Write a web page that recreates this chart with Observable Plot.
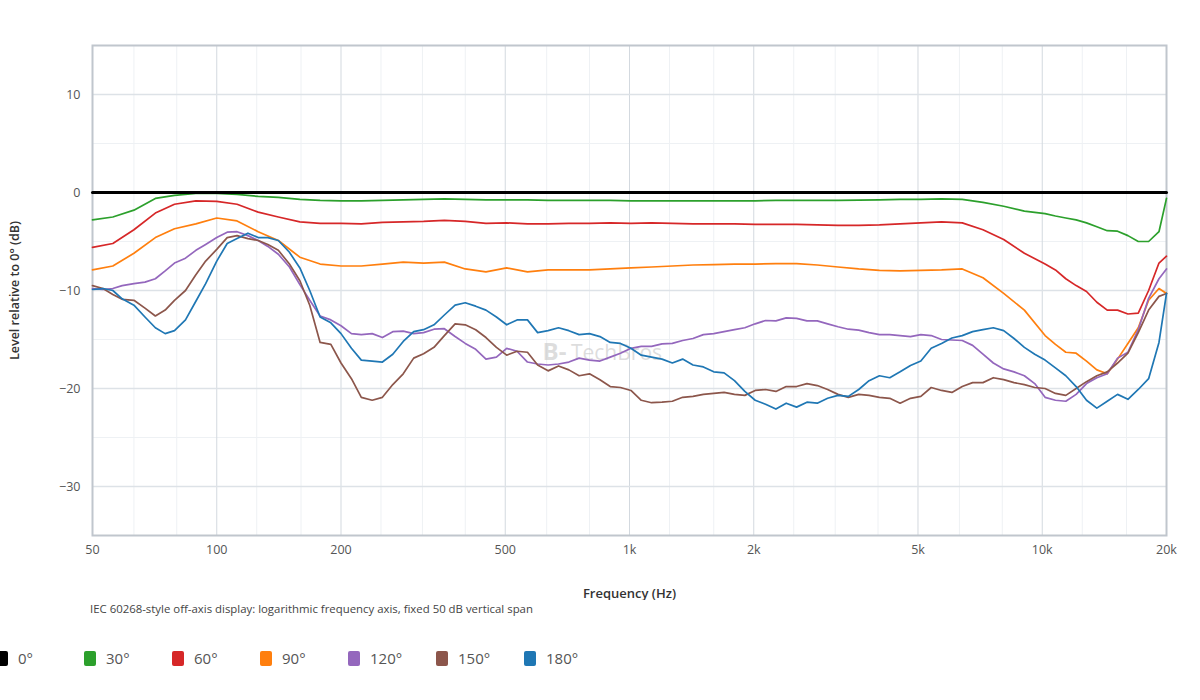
<!DOCTYPE html>
<html><head><meta charset="utf-8">
<script src="https://cdn.jsdelivr.net/npm/d3@7"></script>
<script src="https://cdn.jsdelivr.net/npm/@observablehq/plot@0.6"></script>
<style>
body{margin:0;background:#fff;font-family:"Open Sans",sans-serif;}
#wrap{position:relative;width:1200px;height:700px;overflow:hidden;}
#chart{position:absolute;left:0;top:0;}
#caption{position:absolute;left:90px;top:601px;font-size:11.4px;color:#444;}
#legend{position:absolute;left:-4px;top:648px;display:flex;}
.item{display:flex;align-items:center;width:88px;}
.sw{width:12px;height:15px;border-radius:2px;margin-right:10px;}
.lb{font-size:15px;color:#555;}
</style></head>
<body><div id="wrap"><div id="chart"></div><div id="caption"></div><div id="legend"></div></div>
<script>
// 1/6-octave grid (smooth curves)
const freqs = [50,56,63,71,79,89,100,112,126,141,159,178,200,224,252,283,317,356,400,449,504,566,635,713,800,898,1008,1131,1270,1425,1600,1796,2016,2263,2540,2851,3200,3592,4032,4525,5080,5702,6400,7184,8064,9051,10159,10764,11404,12082,12800,13561,14368,15222,16127,17086,18102,19178,20000];
// 1/12-octave grid (detailed curves)
const freqsFine = [50,53,56,59,63,67,71,75,79,84,89,94,
 100,106,112,119,126,133,141,150,159,168,178,189,
 200,212,224,238,252,267,283,300,317,336,356,378,
 400,424,449,476,504,534,566,599,635,673,713,755,
 800,848,898,951,1008,1068,1131,1199,1270,1345,1425,1510,
 1600,1695,1796,1903,2016,2136,2263,2397,2540,2691,2851,3020,
 3200,3390,3592,3806,4032,4271,4525,4795,5080,5382,5702,6041,
 6400,6781,7184,7611,8064,8543,9051,9589,
 10159,10764,11404,12082,12800,13561,14368,15222,16127,17086,18102,19178,20000];
const deg0Freqs = [50, 20000];
const deg0 = [0, 0];
const deg30 = [-2.8,-2.5,-1.8,-0.6,-0.3,-0.1,-0.1,-0.2,-0.4,-0.5,-0.7,-0.8,-0.85,
 -0.85,-0.8,-0.75,-0.7,-0.65,-0.7,-0.75,-0.75,-0.75,-0.8,-0.8,-0.8,-0.8,
 -0.85,-0.85,-0.85,-0.85,-0.85,-0.85,-0.85,-0.8,-0.8,-0.8,-0.8,-0.78,-0.75,
 -0.7,-0.7,-0.65,-0.7,-1.0,-1.4,-1.9,
 -2.15,-2.4,-2.6,-2.8,-3.1,-3.5,-3.9,-3.95,-4.4,-5.0,-5.0,-4.0,-0.6];
const deg60 = [-5.6,-5.2,-3.8,-2.1,-1.2,-0.85,-0.9,-1.2,-2.0,-2.5,-3.0,-3.15,-3.15,
 -3.2,-3.05,-3.0,-2.95,-2.85,-2.95,-3.15,-3.1,-3.2,-3.2,-3.15,-3.15,-3.1,
 -3.15,-3.1,-3.15,-3.2,-3.2,-3.2,-3.25,-3.25,-3.25,-3.3,-3.35,-3.35,-3.3,
 -3.2,-3.1,-3.0,-3.1,-3.8,-4.8,-6.2,
 -7.3,-7.9,-8.8,-9.5,-10.1,-11.2,-12.0,-12.0,-12.4,-12.3,-10.0,-7.2,-6.5];
const deg90 = [-7.9,-7.5,-6.2,-4.6,-3.7,-3.2,-2.6,-2.9,-4.0,-4.9,-6.6,-7.3,-7.5,
 -7.5,-7.3,-7.1,-7.2,-7.1,-7.8,-8.1,-7.7,-8.1,-7.9,-7.9,-7.9,-7.8,
 -7.7,-7.6,-7.5,-7.4,-7.35,-7.3,-7.3,-7.25,-7.25,-7.4,-7.6,-7.8,-7.95,
 -8.0,-7.95,-7.9,-7.8,-8.7,-10.3,-12.0,
 -14.6,-15.5,-16.3,-16.4,-17.2,-18.1,-18.5,-17.0,-15.4,-13.8,-11.0,-9.8,-10.3];
const deg120 = [-9.8,-9.9,-9.8,-9.5,-9.3,-9.15,-8.8,-8.0,-7.2,-6.7,-5.9,-5.3,
 -4.6,-4.05,-4.0,-4.4,-4.9,-5.5,-6.3,-7.6,-9.4,-11.0,-12.6,-13.0,
 -13.6,-14.4,-14.5,-14.4,-14.8,-14.2,-14.15,-14.4,-14.3,-13.95,-13.9,-14.7,
 -15.4,-16.0,-17.0,-16.8,-15.9,-16.2,-17.3,-17.5,-17.6,-17.5,-17.3,-16.9,
 -17.1,-17.2,-16.8,-16.4,-15.9,-15.7,-15.7,-15.45,-15.4,-15.1,-14.9,-14.5,
 -14.4,-14.2,-14.0,-13.8,-13.4,-13.06,-13.1,-12.8,-12.85,-13.1,-13.1,-13.4,
 -13.7,-13.95,-14.05,-14.3,-14.5,-14.5,-14.6,-14.7,-14.5,-14.6,-15.0,-15.05,
 -15.1,-15.6,-16.5,-17.4,-18.0,-18.3,-18.7,-19.5,
 -20.9,-21.2,-21.3,-20.6,-19.5,-18.9,-18.5,-16.9,-16.3,-14.0,-10.8,-8.8,-7.8];
const deg150 = [-9.5,-9.8,-10.4,-10.9,-11.0,-11.8,-12.6,-12.0,-11.0,-10.0,-8.4,-7.0,
 -5.8,-4.6,-4.4,-4.7,-4.9,-5.3,-5.9,-7.3,-9.0,-11.5,-15.3,-15.5,
 -17.4,-19.0,-20.9,-21.2,-20.9,-19.6,-18.5,-16.9,-16.45,-15.8,-14.6,-13.4,
 -13.5,-14.0,-14.8,-15.8,-16.6,-16.2,-16.3,-17.6,-18.2,-17.7,-18.1,-18.7,
 -18.5,-19.1,-19.8,-19.9,-20.2,-21.2,-21.45,-21.4,-21.3,-20.9,-20.8,-20.6,
 -20.5,-20.4,-20.6,-20.7,-20.2,-20.1,-20.3,-19.8,-19.8,-19.5,-19.7,-20.1,
 -20.6,-20.9,-20.6,-20.7,-20.9,-21.0,-21.5,-21.0,-20.8,-19.9,-20.2,-20.4,
 -19.8,-19.4,-19.4,-18.9,-19.1,-19.4,-19.6,-19.9,
 -20.0,-20.5,-20.7,-20.0,-19.3,-18.7,-18.3,-17.4,-16.4,-14.3,-12.0,-10.6,-10.3];
const deg180 = [-9.9,-9.8,-10.0,-10.85,-11.5,-12.7,-13.8,-14.4,-14.1,-13.0,-11.1,-9.3,
 -7.0,-5.2,-4.7,-4.15,-4.6,-4.6,-4.9,-6.1,-7.7,-10.0,-12.7,-13.3,
 -14.4,-15.9,-17.1,-17.2,-17.3,-16.5,-15.2,-14.2,-14.0,-13.5,-12.5,-11.5,
 -11.25,-11.6,-12.0,-12.7,-13.5,-13.0,-13.0,-14.3,-14.1,-13.8,-14.1,-14.5,
 -14.4,-14.7,-15.3,-15.4,-15.9,-16.6,-16.8,-17.0,-17.4,-17.0,-17.6,-17.8,
 -18.3,-18.4,-19.2,-20.3,-21.2,-21.6,-22.1,-21.5,-21.9,-21.4,-21.5,-21.0,
 -20.7,-20.8,-20.1,-19.2,-18.7,-18.9,-18.3,-17.65,-17.2,-15.9,-15.4,-14.85,
 -14.6,-14.2,-14.0,-13.8,-14.1,-14.9,-15.8,-16.5,
 -17.1,-17.9,-18.7,-19.8,-21.2,-22.0,-21.3,-20.6,-21.1,-20.1,-19.0,-15.3,-10.3];

const seriesNames = ["0°","30°","60°","90°","120°","150°","180°"];
const seriesColors = ["#000000","#2ca02c","#d62728","#ff7f0e","#9467bd","#8c564b","#1f77b4"];
const majorFreqs = [50,100,200,500,1000,2000,5000,10000,20000];
const minorFreqs = [63,80,125,160,250,315,400,630,800,1250,1600,2500,3150,4000,6300,8000,12500,16000];
const yTicks = [10,0,-10,-20,-30];
const yMinor = [5,-5,-15,-25];
const xLabel = "Frequency (Hz)";
const yLabel = "Level relative to 0° (dB)";
const watermark = "TechBros";
const captionText = "IEC 60268-style off-axis display: logarithmic frequency axis, fixed 50 dB vertical span";

const rows = [];
[[deg30, freqs],[deg60, freqs],[deg90, freqs],[deg120, freqsFine],[deg150, freqsFine],[deg180, freqsFine]]
  .forEach(([vals, fs], i) => vals.forEach((v, j) => rows.push({s: seriesNames[i+1], f: fs[j], v})));
const refRows = deg0.map((v, j) => ({s: seriesNames[0], f: deg0Freqs[j], v}));

const fmt = d => d >= 1000 ? (d/1000) + "k" : String(d);

const chart = Plot.plot({
  width: 1200, height: 600,
  marginTop: 45, marginBottom: 65, marginLeft: 92, marginRight: 34,
  style: {fontFamily: "'Open Sans', sans-serif", fontSize: "12.5px", color: "#555", background: "#fff"},
  x: {type: "log", domain: [50, 20000], axis: null},
  y: {domain: [-35, 15], ticks: yTicks, tickSize: 0, tickPadding: 12, label: null},
  color: {domain: seriesNames, range: seriesColors},
  marks: [
    Plot.ruleX(minorFreqs, {stroke: "#eef1f4", strokeWidth: 1}),
    Plot.ruleY(yMinor, {stroke: "#eef1f4", strokeWidth: 1}),
    Plot.ruleX(majorFreqs, {stroke: "#d3d9df", strokeWidth: 1}),
    Plot.ruleY(yTicks, {stroke: "#dde2e7", strokeWidth: 1.5}),
    Plot.text(["B-"], {frameAnchor: "middle", dx: -75, dy: 62, fill: "#bbb", fontSize: 24, fontWeight: 700, fillOpacity: 0.5}),
    Plot.text([watermark], {frameAnchor: "middle", dx: -13, dy: 63, fill: "#bbb", fontSize: 21, fillOpacity: 0.5}),
    Plot.frame({stroke: "#c0c6cd", strokeWidth: 2}),
    Plot.line(rows, {x: "f", y: "v", z: "s", stroke: "s", strokeWidth: 1.7}),
    Plot.line(refRows, {x: "f", y: "v", stroke: "s", strokeWidth: 3}),
    Plot.text(majorFreqs, {x: d => d, text: fmt, frameAnchor: "bottom", dy: 18, fill: "#555", fontSize: 12.5}),
    Plot.text([xLabel], {frameAnchor: "bottom", dy: 62, fill: "#333", fontSize: 13, fontWeight: 600}),
    Plot.text([yLabel], {frameAnchor: "left", dx: -78, rotate: -90, textAnchor: "middle", fill: "#333", fontSize: 12.5, fontWeight: 600})
  ]
});
document.getElementById("chart").appendChild(chart);
document.getElementById("caption").textContent = captionText;
const legend = document.getElementById("legend");
seriesNames.forEach((n, i) => {
  const it = document.createElement("div"); it.className = "item";
  const sw = document.createElement("div"); sw.className = "sw"; sw.style.background = seriesColors[i];
  const lb = document.createElement("span"); lb.className = "lb"; lb.textContent = n;
  it.appendChild(sw); it.appendChild(lb); legend.appendChild(it);
});
</script></body></html>
